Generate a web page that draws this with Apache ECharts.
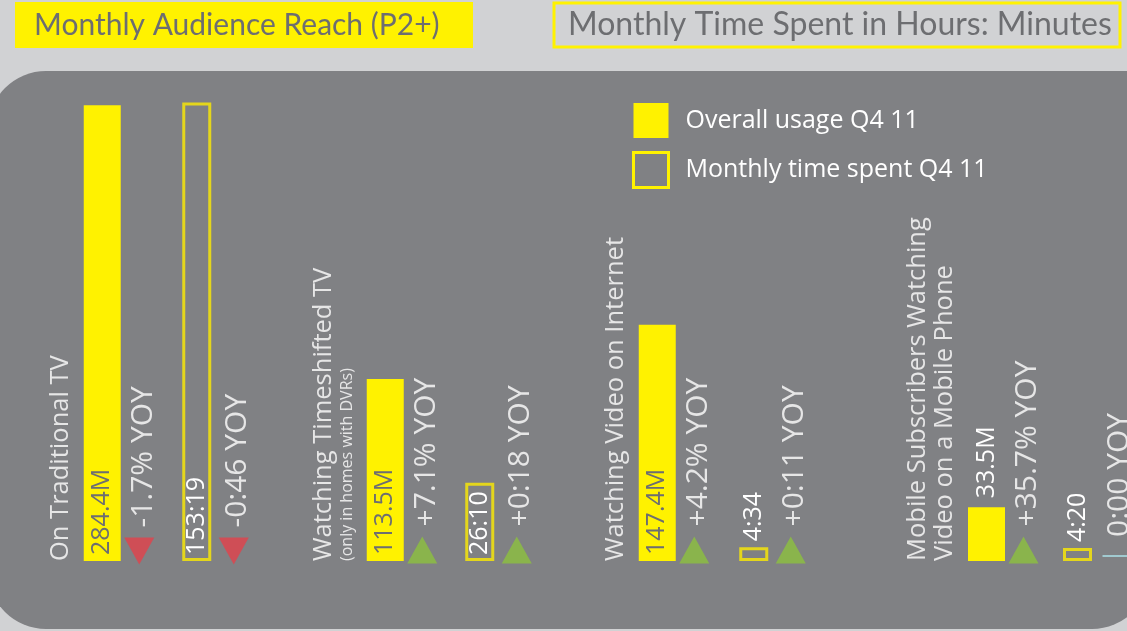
<!DOCTYPE html>
<html>
<head>
<meta charset="utf-8">
<script src="https://cdn.jsdelivr.net/npm/echarts@6/dist/echarts.min.js"></script>
<style>
  html, body { margin: 0; padding: 0; background: #d1d2d4; }
  #chart { width: 1127px; height: 631px; }
</style>
</head>
<body>
<div id="chart"></div>
<script>
// categories (one group of bars per viewing platform)
var groupNames = ['On Traditional TV', 'Watching Timeshifted TV', 'Watching Video on Internet', 'Mobile Subscribers Watching\nVideo on a Mobile Phone'];
var groupNotes = ['', '(only in homes with DVRs)', '', ''];

// monthly audience reach, millions (P2+)
var reachValues = [284.4, 113.5, 147.4, 33.5];
var reachYoy = ['-1.7%', '+7.1%', '+4.2%', '+35.7%'];

// monthly time spent, hours:minutes
var timeValues = ['153:19', '26:10', '4:34', '4:20'];
var timeYoy = ['-0:46', '+0:18', '+0:11', '0:00'];

var legendNames = ['Overall usage Q4 11', 'Monthly time spent Q4 11'];

var YELLOW = '#fff200';
var OUTLINE = '#e4d61c';
var WHITE = '#ffffff';
var DARK = '#6d6e71';
var FONT = '"Open Sans"';
var HEAD_FONT = 'Lato';

// where each group sits on the page
var groupLayout = [
  { left: 55, width: 189 },
  { left: 338, width: 189 },
  { left: 609, width: 193 },
  { left: 941, width: 182 }
];

function toHours(s) {
  var p = s.split(':');
  return Number(p[0]) + Number(p[1]) / 60;
}

var DOWN = 'path://M0,0 L30,0 L15,27 Z';

// arrow / flat marker for a year-over-year change
function yoyItem(idx, text) {
  var item = { value: [idx, 0], yoy: text };
  var sign = text.charAt(0);
  if (sign === '-') {
    item.symbol = DOWN;
    item.symbolSize = [30, 27];
    item.symbolOffset = [37, -10];
    item.itemStyle = { color: '#e2414b' };
  } else if (sign === '+') {
    item.symbol = 'triangle';
    item.symbolSize = [30, 27];
    item.symbolOffset = [37, -11];
    item.itemStyle = { color: '#8cc03f' };
  } else {
    item.symbol = 'rect';
    item.symbolSize = [26, 2];
    item.symbolOffset = [38, -5];
    item.itemStyle = { color: '#a9dce3' };
    item.label = { distance: 18 };
  }
  return item;
}

var grids = [], xAxes = [], yAxes = [], series = [];

groupNames.forEach(function (name, i) {
  grids.push({ left: groupLayout[i].left, width: groupLayout[i].width, top: 101, bottom: 70 });
  xAxes.push({ type: 'category', gridIndex: i, data: ['reach', 'time'], show: false });
  xAxes.push({ type: 'category', gridIndex: i, data: ['reach', 'time'], show: false });
  yAxes.push({ type: 'value', gridIndex: i, min: 0, max: 287, show: false });
  yAxes.push({ type: 'value', gridIndex: i, min: 0, max: 153.8, show: false });

  // audience reach bar; short bars carry their value above
  var small = reachValues[i] < 50;
  series.push({
    type: 'bar',
    name: legendNames[0],
    xAxisIndex: 2 * i,
    yAxisIndex: 2 * i,
    barWidth: 37,
    itemStyle: { color: YELLOW },
    label: {
      show: true, position: small ? 'top' : 'insideBottom', rotate: 90, align: 'left', verticalAlign: 'middle',
      distance: small ? 9 : 6, color: small ? WHITE : DARK, fontSize: 25, fontFamily: FONT,
      formatter: function (p) { return p.value + 'M'; }
    },
    data: [reachValues[i], '-']
  });

  // time spent bar (outlined)
  var h = toHours(timeValues[i]);
  series.push({
    type: 'bar',
    name: legendNames[1],
    xAxisIndex: 2 * i + 1,
    yAxisIndex: 2 * i + 1,
    barWidth: 29,
    itemStyle: { color: 'rgba(0,0,0,0)', borderColor: OUTLINE, borderWidth: 3 },
    label: {
      show: true, position: h < 20 ? 'top' : 'insideBottom', rotate: 90, align: 'left', verticalAlign: 'middle',
      distance: 6, color: WHITE, fontSize: 25, fontFamily: FONT,
      formatter: timeValues[i]
    },
    data: ['-', h]
  });

  // YOY markers with their text
  series.push({
    type: 'scatter',
    xAxisIndex: 2 * i,
    yAxisIndex: 2 * i,
    z: 3,
    label: {
      show: true, position: 'top', rotate: 90, align: 'left', verticalAlign: 'middle',
      distance: 10, offset: [0, 4], color: WHITE, fontSize: 30, fontFamily: FONT,
      formatter: function (p) { return p.data.yoy + ' YOY'; }
    },
    data: [yoyItem(0, reachYoy[i]), yoyItem(1, timeYoy[i])]
  });

  // group title, written upward beside the reach bar
  var text = name.split('\n').map(function (l) { return '{main|' + l + '}'; }).join('\n');
  if (groupNotes[i]) text += '\n{note|' + groupNotes[i] + '}';
  series.push({
    type: 'scatter',
    xAxisIndex: 2 * i,
    yAxisIndex: 2 * i,
    symbolSize: 1,
    symbolOffset: [-28, 0],
    itemStyle: { color: 'rgba(0,0,0,0)' },
    label: {
      show: true, position: 'inside', rotate: 90, align: 'left', verticalAlign: 'bottom',
      formatter: text,
      rich: {
        main: { fontSize: 25.5, lineHeight: 27, color: WHITE, fontFamily: FONT },
        note: { fontSize: 16, lineHeight: 20, color: WHITE, fontFamily: FONT }
      }
    },
    data: [[0, 0]]
  });
});

var chart = echarts.init(document.getElementById('chart'));
chart.setOption({
  backgroundColor: '#d1d2d4',
  animation: false,
  graphic: [
    { type: 'rect', z: -10, shape: { x: -12, y: 71, width: 1162, height: 558, r: [58, 0, 58, 58] }, style: { fill: '#808184' } },
    { type: 'rect', shape: { x: 15, y: 2, width: 458, height: 46 }, style: { fill: YELLOW } },
    { type: 'text', x: 34, y: 25, style: { text: 'Monthly Audience Reach (P2+)', fill: DARK, font: '30px ' + HEAD_FONT, textVerticalAlign: 'middle' } },
    { type: 'rect', shape: { x: 554, y: 3, width: 566, height: 44 }, style: { fill: 'none', stroke: YELLOW, lineWidth: 3 } },
    { type: 'text', x: 568, y: 25, style: { text: 'Monthly Time Spent in Hours: Minutes', fill: DARK, font: '32px ' + HEAD_FONT, textVerticalAlign: 'middle' } }
  ],
  legend: {
    orient: 'vertical',
    left: 632,
    top: 103,
    padding: 0,
    itemWidth: 35,
    itemHeight: 35,
    itemGap: 13,
    selectedMode: false,
    textStyle: { color: WHITE, fontSize: 25, fontFamily: FONT, padding: [6, 0, 0, 12] },
    data: [
      { name: legendNames[0], icon: 'rect', itemStyle: { color: YELLOW, borderWidth: 0 } },
      { name: legendNames[1], icon: 'rect', itemStyle: { color: 'rgba(0,0,0,0)', borderColor: YELLOW, borderWidth: 3 } }
    ]
  },
  grid: grids,
  xAxis: xAxes,
  yAxis: yAxes,
  series: series
});
</script>
</body>
</html>
